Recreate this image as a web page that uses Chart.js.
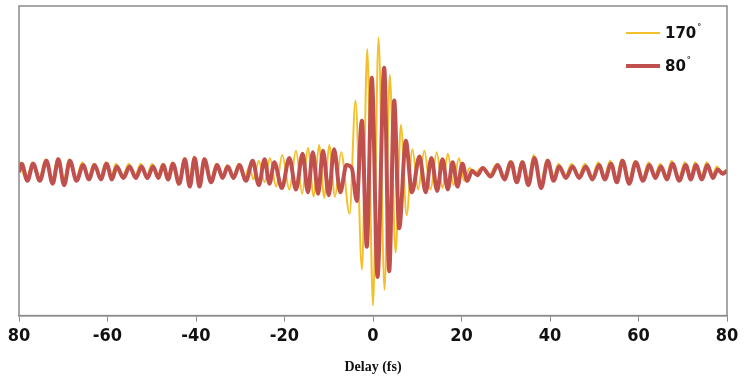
<!DOCTYPE html>
<html>
<head>
<meta charset="utf-8">
<script src="https://cdn.jsdelivr.net/npm/chart.js@4"></script>
<style>
  html, body { margin: 0; padding: 0; background: #fff; }
  #wrap { width: 747px; height: 385px; }
</style>
</head>
<body>
<div id="wrap"><canvas id="myChart"></canvas></div>
<script>
// tick labels as printed (left end shows "80")
var tickValues = [-80, -60, -40, -20, 0, 20, 40, 60, 80];
var tickLabels = ['80', '-60', '-40', '-20', '0', '20', '40', '60', '80'];

// 170 deg trace (delay in fs, signal arb.)
var delay170 = [-80.0, -78.3, -77.0, -75.5, -74.0, -72.6, -71.3, -70.0, -68.7, -67.2, -65.7, -64.4, -63.1, -61.7, -60.4, -59.2, -58.1, -56.6, -55.2, -53.8, -52.5, -51.2, -49.9, -48.7, -47.6, -46.5, -45.4, -44.0, -42.7, -41.6, -40.5, -39.4, -38.3, -36.8, -35.4, -34.2, -33.0, -31.7, -30.4, -29.0, -28.0, -27.0, -25.8, -24.5, -23.3, -21.9, -20.5, -18.9, -17.4, -16.0, -14.7, -13.4, -12.2, -11.0, -9.9, -8.6, -7.2, -5.3, -3.95, -2.5, -1.3, 0.0, 1.25, 2.6, 3.8, 5.1, 6.3, 7.6, 8.9, 10.2, 11.6, 13.0, 14.4, 15.7, 16.9, 18.2, 19.4, 20.6, 21.8, 23.0, 24.4, 26.3, 28.0, 29.5, 31.0, 32.3, 33.6, 34.9, 36.3, 37.8, 39.3, 40.6, 41.9, 43.4, 44.9, 46.4, 47.9, 49.4, 50.9, 52.2, 53.6, 54.9, 56.2, 57.7, 59.2, 60.8, 62.3, 63.6, 64.9, 66.2, 67.5, 69.0, 70.5, 71.6, 72.8, 74.1, 75.4, 76.6, 77.7, 78.8, 80.0];
var signal170 = [0.08, -0.05, 0.07, -0.05, 0.09, -0.07, 0.10, -0.08, 0.09, -0.05, 0.07, -0.04, 0.06, -0.04, 0.07, -0.04, 0.06, -0.03, 0.06, -0.03, 0.06, -0.03, 0.06, -0.04, 0.06, -0.05, 0.07, -0.09, 0.10, -0.10, 0.11, -0.10, 0.10, -0.06, 0.06, -0.04, 0.05, -0.04, 0.06, -0.05, 0.04, -0.05, 0.08, -0.07, 0.10, -0.10, 0.12, -0.12, 0.15, -0.15, 0.17, -0.17, 0.19, -0.18, 0.19, -0.17, 0.14, -0.29, 0.50, -0.68, 0.86, -0.93, 0.94, -0.82, 0.68, -0.56, 0.33, -0.30, 0.16, -0.12, 0.15, -0.12, 0.14, -0.11, 0.13, -0.09, 0.10, -0.06, 0.03, -0.01, 0.03, -0.02, 0.06, -0.04, 0.08, -0.06, 0.08, -0.08, 0.12, -0.10, 0.09, -0.05, 0.06, -0.03, 0.06, -0.03, 0.06, -0.04, 0.07, -0.04, 0.08, -0.06, 0.09, -0.07, 0.08, -0.05, 0.07, -0.03, 0.06, -0.04, 0.08, -0.05, 0.07, -0.04, 0.07, -0.04, 0.07, -0.03, 0.04, 0.00, 0.02];

// 80 deg trace
var delay80 = [-80.0, -79.4, -78.1, -76.8, -75.3, -73.8, -72.4, -71.1, -69.8, -68.5, -67.0, -65.5, -64.2, -62.9, -61.5, -60.2, -59.0, -57.9, -56.4, -55.0, -53.6, -52.3, -51.0, -49.7, -48.5, -47.4, -46.3, -45.2, -43.8, -42.5, -41.4, -40.3, -39.2, -38.1, -36.6, -35.2, -34.0, -32.8, -31.5, -30.2, -28.7, -27.2, -25.8, -24.5, -23.4, -22.3, -20.6, -18.9, -17.4, -15.9, -14.7, -13.6, -12.4, -11.3, -10.0, -8.8, -7.4, -6.0, -4.8, -3.66, -2.53, -1.40, -0.27, 1.02, 2.53, 3.66, 4.79, 5.92, 7.41, 8.8, 10.5, 11.9, 13.2, 14.5, 15.7, 16.9, 18.0, 19.1, 20.2, 21.3, 22.4, 23.6, 24.8, 26.6, 28.2, 29.7, 31.2, 32.5, 33.8, 35.1, 36.5, 38.0, 39.5, 40.8, 42.1, 43.6, 45.1, 46.6, 48.1, 49.6, 51.1, 52.4, 53.8, 55.1, 56.4, 57.9, 59.4, 61.0, 62.5, 63.8, 65.1, 66.4, 67.7, 69.2, 70.7, 71.8, 73.0, 74.3, 75.6, 76.8, 77.9, 79.0, 80.0];
var signal80 = [0.00, 0.06, -0.06, 0.06, -0.06, 0.08, -0.08, 0.09, -0.09, 0.08, -0.06, 0.05, -0.05, 0.05, -0.05, 0.06, -0.05, 0.04, -0.04, 0.04, -0.04, 0.04, -0.04, 0.04, -0.04, 0.05, -0.05, 0.06, -0.08, 0.09, -0.10, 0.10, -0.10, 0.09, -0.07, 0.05, -0.04, 0.04, -0.04, 0.05, -0.06, 0.08, -0.09, 0.09, -0.08, 0.07, -0.11, 0.10, -0.12, 0.13, -0.14, 0.14, -0.15, 0.15, -0.16, 0.16, -0.14, 0.05, 0.03, -0.20, 0.36, -0.52, 0.66, -0.73, 0.73, -0.69, 0.50, -0.39, 0.22, -0.14, 0.11, -0.14, 0.10, -0.13, 0.09, -0.12, 0.07, -0.10, 0.06, -0.06, 0.01, -0.02, 0.03, -0.03, 0.05, -0.05, 0.07, -0.07, 0.07, -0.09, 0.10, -0.11, 0.08, -0.06, 0.04, -0.04, 0.04, -0.04, 0.04, -0.05, 0.05, -0.05, 0.06, -0.07, 0.08, -0.08, 0.07, -0.06, 0.05, -0.04, 0.04, -0.05, 0.06, -0.06, 0.05, -0.05, 0.05, -0.05, 0.05, -0.04, 0.02, -0.01, 0.01];

function toPoints(xs, ys) {
  var pts = [];
  for (var i = 0; i < xs.length; i++) pts.push({ x: xs[i], y: ys[i] });
  return pts;
}

// frame round the plot + legend inside top right
var framePlugin = {
  id: 'frame',
  afterDraw: function (chart) {
    var ctx = chart.ctx, a = chart.chartArea;
    ctx.save();
    ctx.strokeStyle = '#8a8a8a';
    ctx.lineWidth = 1.5;
    ctx.strokeRect(a.left, a.top, a.right - a.left, a.bottom - a.top);

    var ds = chart.data.datasets;
    var rows = [33, 66];
    for (var i = 0; i < ds.length; i++) {
      var y = rows[i];
      ctx.strokeStyle = ds[i].borderColor;
      ctx.lineWidth = ds[i].borderWidth;
      ctx.beginPath();
      ctx.moveTo(626, y);
      ctx.lineTo(660, y);
      ctx.stroke();
      ctx.fillStyle = '#111';
      ctx.textBaseline = 'middle';
      ctx.font = 'bold 15px "DejaVu Sans"';
      ctx.fillText(ds[i].label, 665, y + 1);
      var w = ctx.measureText(ds[i].label).width;
      ctx.font = 'bold 8px "DejaVu Sans"';
      ctx.fillText('°', 665 + w + 1, y - 5);
    }
    ctx.restore();
  }
};

var myChart = document.getElementById('myChart').getContext('2d');
var DelayChart = new Chart(myChart, {
  type: 'line',
  data: {
    datasets: [{
      label: '170',
      data: toPoints(delay170, signal170),
      borderColor: '#F3C02B',
      borderWidth: 2,
      pointRadius: 0,
      cubicInterpolationMode: 'monotone',
      order: 2
    }, {
      label: '80',
      data: toPoints(delay80, signal80),
      borderColor: '#C0504D',
      borderWidth: 4,
      pointRadius: 0,
      cubicInterpolationMode: 'monotone',
      order: 1
    }]
  },
  options: {
    responsive: true,
    maintainAspectRatio: false,
    animation: false,
    layout: { padding: { left: 19, right: 20, top: 6, bottom: 9 } },
    plugins: {
      legend: { display: false },
      tooltip: { enabled: false }
    },
    scales: {
      x: {
        type: 'linear',
        min: -80,
        max: 80,
        afterBuildTicks: function (axis) {
          axis.ticks = tickValues.map(function (v) { return { value: v }; });
        },
        ticks: {
          autoSkip: false,
          maxRotation: 0,
          padding: 4,
          color: '#111',
          font: { family: '"DejaVu Sans Condensed", "DejaVu Sans", sans-serif', size: 18, weight: 'bold' },
          callback: function (v) { return tickLabels[tickValues.indexOf(v)]; }
        },
        grid: { display: true, drawOnChartArea: false, drawTicks: true, tickLength: 6, color: '#8a8a8a' },
        border: { display: true, color: '#8a8a8a', width: 1.5 },
        title: {
          display: true,
          text: 'Delay (fs)',
          color: '#111',
          padding: { top: 8, bottom: 0 },
          font: { family: '"Liberation Serif"', size: 14, weight: 'bold' }
        }
      },
      y: {
        display: false,
        min: -1.0,
        max: 1.16
      }
    }
  },
  plugins: [framePlugin]
});
</script>
</body>
</html>
